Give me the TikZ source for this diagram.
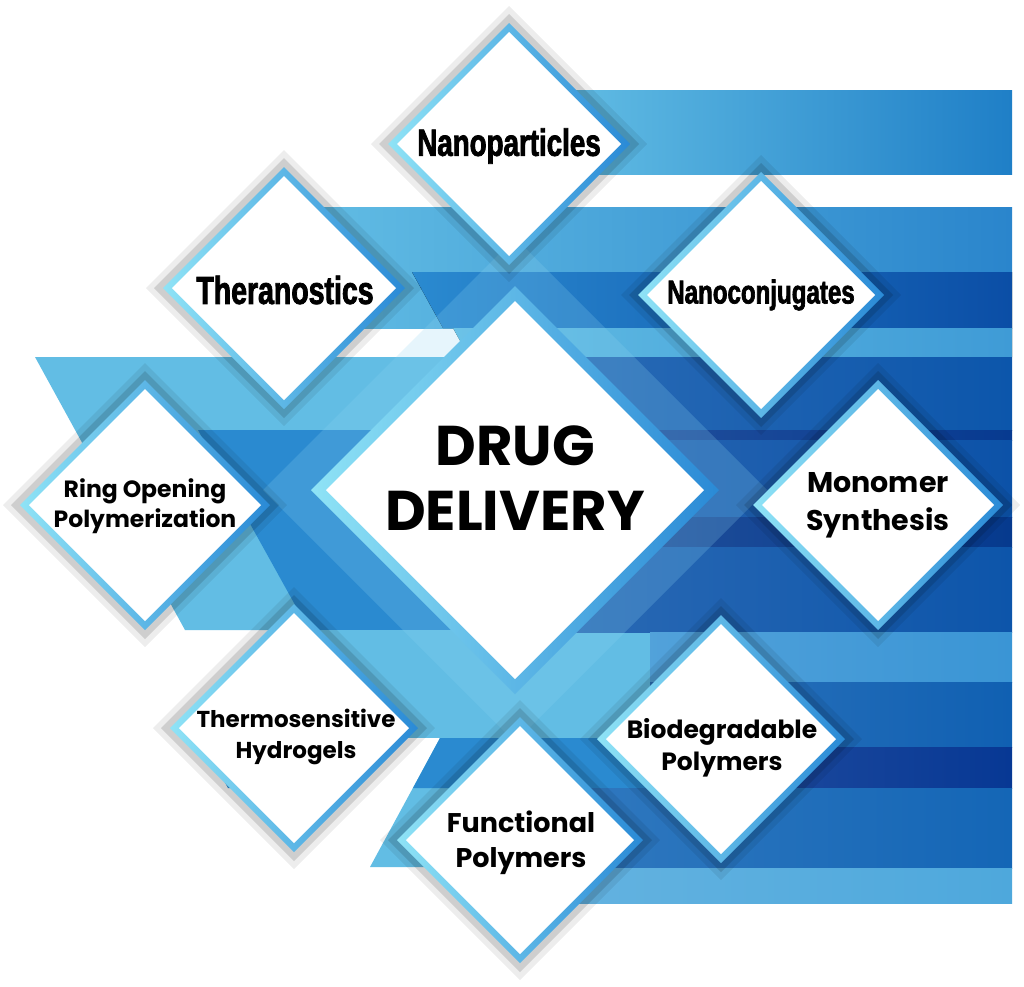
\documentclass[tikz,border=0pt]{standalone}
\usepackage{fontspec}
\setmainfont{Poppins}
\newfontfamily\narrowfont[FakeStretch=0.73, BoldFeatures={FakeBold=2}]{Liberation Sans}
\usetikzlibrary{shapes.geometric,positioning,calc}

\definecolor{rimlight}{HTML}{8FE3F6}
\definecolor{rimdark}{HTML}{2A8AD6}
\definecolor{skyband}{HTML}{62BDE4}
\definecolor{midband}{HTML}{2A8AD0}
\definecolor{topband}{HTML}{1F7FC7}
\definecolor{upperband}{HTML}{2A85CC}
\definecolor{deepband}{HTML}{0B4EA6}
\definecolor{paleband}{HTML}{3F9BD6}
\definecolor{frameglow}{HTML}{8FD6F2}

\tikzset{
  tile/.style={diamond, aspect=1, inner sep=0pt, outer sep=0pt, minimum size=#1},
  rimtile/.style={tile=#1, left color=rimlight, right color=rimdark},
  facetile/.style={tile=#1, fill=white},
  glowtile/.style={tile=#1, fill=black, fill opacity=.07},
  halotile/.style={tile=#1, fill=black, fill opacity=.13},
  tiletext/.style={align=center, text=black, inner sep=0pt},
}

\begin{document}
\begin{tikzpicture}[x=1pt,y=-1pt]
\useasboundingbox (0,0) rectangle (1024,986);
\fill[white] (0,0) rectangle (1024,986);

% bands on the right
\fill[left color=skyband, right color=topband] (560,90) rectangle (1012,174);
\fill[left color=skyband, right color=upperband] (300,207) rectangle (1012,328);
\fill[left color=midband, right color=deepband] (412,272) -- (1012,272) -- (1012,328) -- (443,328) -- cycle;
\fill[left color=skyband, right color=paleband] (453,328) -- (1012,328) -- (1012,357) -- (469,357) -- cycle;

% shapes on the left
\fill[skyband] (35,357) -- (660,357) -- (660,630) -- (185,630) -- cycle;
\fill[midband] (198,430) -- (660,430) -- (660,630) -- (309,630) -- cycle;
\fill[skyband] (300,630) rectangle (660,738);
\fill[skyband] (440,738) -- (660,738) -- (660,867) -- (370,867) -- cycle;
\fill[midband] (440,738) -- (660,738) -- (660,788) -- (413,788) -- cycle;
\fill[midband] (200,738) -- (340,738) -- (340,788) -- (228,788) -- cycle;

% stripes of the lower block
\foreach \ya/\yb/\xa/\c in {357/430/560/0C56AB, 430/440/560/073A90, 440/517/560/0C52A8,
    517/547/560/063A8E, 547/632/560/0D55AA, 632/682/650/3A95D5, 682/747/650/1060B2,
    747/788/650/073894, 788/868/560/1466B6, 868/903/560/4EA8DC}{
  \definecolor{rowcolor}{HTML}{\c}
  \fill[left color=rowcolor!88!white, right color=rowcolor] (\xa,\ya) rectangle (1012,\yb);
}

% central tile
\node[tile={2*252}, fill=frameglow, fill opacity=.22] (dd-frame) at (515,490) {};
\node[tile={2*204}, left color=rimlight, right color=rimdark] (dd) at (515,490) {};
\node[facetile={2*189}] (dd-face) at (515,490) {};

% outer tiles
\foreach \n/\x/\y/\h in {nanop/509/144/121, thera/284/288/121, nanoc/761/295/123,
    ring/145/505/125, mono/878/505/125, thermo/294/728/124, func/520/840/123, bio/721/739/124}{
  \node[glowtile={2*(\h+17)}] (\n-glow) at (\x,\y) {};
  \node[halotile={2*(\h+9)}] (\n-halo) at (\x,\y) {};
  \node[rimtile={2*\h}] (\n) at (\x,\y) {};
  \node[facetile={2*(\h-9)}] (\n-face) at (\x,\y) {};
}

% texts
\node[tiletext, font={\bfseries\fontsize{56}{65}\selectfont}] (dd-text) at (515,478) {DRUG\\DELIVERY};
\node[tiletext, font={\narrowfont\bfseries\fontsize{38}{40}\selectfont}] (nanop-text) at (509,146) {Nanoparticles};
\node[tiletext, font={\narrowfont\bfseries\fontsize{39}{40}\selectfont}] (thera-text) at (285,290) {Theranostics};
\node[tiletext, font={\narrowfont\bfseries\fontsize{33}{40}\selectfont}] (nanoc-text) at (761,295) {Nanoconjugates};
\node[tiletext, font={\bfseries\fontsize{23.5}{30}\selectfont}] (ring-text) at (145,506) {Ring Opening\\Polymerization};
\node[tiletext, font={\bfseries\fontsize{28.5}{38}\selectfont}] (mono-text) at (878,505) {Monomer\\Synthesis};
\node[tiletext, font={\bfseries\fontsize{23}{31}\selectfont}] (thermo-text) at (296,737) {Thermosensitive\\Hydrogels};
\node[tiletext, font={\bfseries\fontsize{27}{35}\selectfont}] (func-text) at (521,843) {Functional\\Polymers};
\node[tiletext, font={\bfseries\fontsize{25}{32}\selectfont}] (bio-text) at (722,748) {Biodegradable\\Polymers};
\end{tikzpicture}
\end{document}
